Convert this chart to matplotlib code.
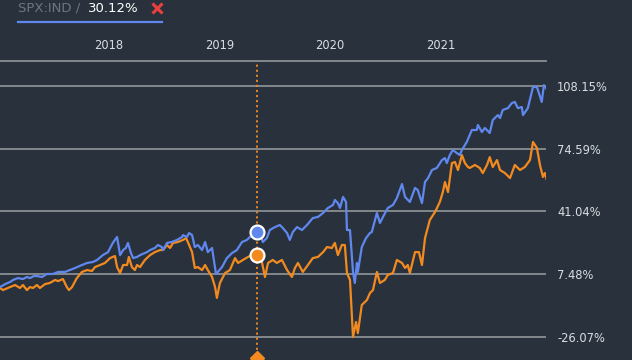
import pandas as pd
import matplotlib
matplotlib.use("Agg")
import matplotlib.pyplot as plt
import matplotlib.transforms as mtransforms
from matplotlib.lines import Line2D

# weekly-ish closes, as % change since the first point (days counted from start_date)
start_date = pd.Timestamp("2017-01-06")

spx_days = [0, 17, 33, 43, 59, 76, 89, 99, 112, 122,
            139, 155, 175, 192, 215, 231, 248, 271, 288, 307,
            321, 340, 357, 373, 387, 397, 407, 416, 423, 433,
            440, 453, 463, 486, 496, 512, 522, 535, 539, 552,
            568, 585, 602, 605, 618, 625, 635, 644, 654, 668,
            678, 687, 701, 714, 734, 750, 767, 783, 800, 816,
            833, 846, 859, 869, 882, 892, 909, 925, 935, 949,
            958, 968, 982, 998, 1015, 1034, 1051, 1068, 1084, 1101,
            1107, 1117, 1124, 1134, 1144, 1147, 1157, 1167, 1173, 1180,
            1183, 1196, 1210, 1223, 1229, 1246, 1256, 1266, 1282, 1299,
            1312, 1329, 1339, 1355, 1372, 1381, 1395, 1405, 1415, 1428,
            1444, 1461, 1471, 1477, 1487, 1497, 1510, 1520, 1527, 1543,
            1560, 1576, 1580, 1593, 1603, 1619, 1629, 1646, 1653, 1662,
            1679, 1692, 1702, 1712, 1725, 1729, 1745, 1762, 1775, 1791,
            1798, 1805]
spx_pct = [0.5, 2.1, 3.2, 4.3, 5.3, 4.8, 5.9, 5.3, 6.4, 6.4,
           5.9, 7.5, 7.5, 8.6, 8.6, 9.6, 10.7, 12.3, 13.4, 13.9,
           15.0, 17.6, 19.2, 24.1, 27.3, 17.6, 20.3, 21.4, 24.1, 18.7,
           16.0, 16.6, 17.6, 19.2, 20.3, 21.4, 23.0, 21.9, 20.3, 24.1,
           24.6, 25.7, 27.3, 28.3, 27.3, 29.4, 28.3, 21.9, 23.0, 20.3,
           24.6, 19.2, 21.4, 7.5, 11.2, 16.0, 18.7, 20.3, 24.6, 25.7,
           28.3, 30.1, 29.4, 24.6, 26.7, 31.0, 32.6, 33.7, 32.1, 29.4,
           25.7, 29.9, 32.6, 31.0, 33.7, 37.4, 38.0, 40.1, 42.8, 44.4,
           47.1, 45.4, 42.8, 48.7, 46.0, 31.0, 31.0, 8.6, 2.7, 13.4,
           8.6, 21.9, 26.7, 29.4, 29.9, 40.1, 34.8, 38.0, 42.8, 44.4,
           48.1, 55.6, 48.7, 46.0, 53.5, 52.4, 45.4, 56.7, 58.8, 63.1,
           64.2, 68.4, 69.5, 66.8, 71.1, 73.8, 72.2, 71.1, 73.8, 78.1,
           84.5, 84.5, 87.2, 83.4, 85.6, 82.9, 89.8, 92.5, 90.9, 95.2,
           96.2, 98.9, 99.5, 96.2, 96.8, 92.5, 96.2, 107.5, 107.5, 99.5,
           108.5, 106.9]

cmp_days = [0, 10, 33, 50, 66, 76, 89, 99, 109, 122,
            132, 149, 165, 182, 192, 208, 221, 228, 238, 254,
            271, 288, 304, 314, 331, 347, 364, 380, 387, 397,
            407, 420, 426, 436, 446, 453, 463, 479, 496, 512,
            529, 539, 552, 562, 572, 588, 605, 615, 621, 635,
            644, 654, 668, 678, 687, 701, 711, 717, 727, 744,
            760, 777, 787, 803, 820, 833, 846, 859, 876, 886,
            902, 915, 932, 949, 965, 975, 985, 1001, 1018, 1034,
            1051, 1068, 1081, 1097, 1107, 1117, 1130, 1140, 1147, 1157,
            1167, 1177, 1183, 1196, 1213, 1223, 1233, 1246, 1256, 1272,
            1282, 1299, 1312, 1329, 1339, 1348, 1355, 1372, 1385, 1395,
            1405, 1421, 1438, 1454, 1464, 1471, 1481, 1494, 1504, 1514,
            1527, 1537, 1547, 1553, 1570, 1586, 1596, 1610, 1619, 1629,
            1643, 1653, 1669, 1686, 1702, 1719, 1735, 1752, 1762, 1775,
            1785, 1795, 1801, 1808]
cmp_pct = [0.0, -1.1, 0.5, 1.6, 0.0, 1.6, -1.1, 0.5, 0.0, 1.6,
           0.0, 2.1, 2.7, 4.3, 3.7, 4.8, 0.5, -1.1, 0.5, 5.3,
           8.6, 9.6, 9.1, 11.2, 12.3, 13.4, 16.0, 17.1, 11.2, 8.0,
           12.3, 12.3, 16.6, 11.2, 9.6, 12.3, 11.2, 15.0, 17.6, 19.2,
           20.3, 20.3, 23.0, 21.4, 24.1, 24.6, 25.7, 26.7, 24.6, 19.2,
           10.7, 11.2, 9.6, 12.3, 9.6, 5.9, 0.5, -5.3, 2.7, 8.0,
           9.6, 16.0, 13.4, 15.0, 16.6, 17.6, 17.6, 19.2, 5.9, 13.4,
           15.0, 13.4, 15.0, 9.6, 5.9, 10.7, 13.4, 8.6, 12.3, 16.0,
           16.6, 19.2, 21.9, 21.4, 24.1, 17.6, 23.0, 23.0, 8.0, 4.3,
           -26.2, -18.2, -24.1, -9.1, -6.4, -2.7, -1.1, 8.6, 2.7, 4.3,
           7.0, 8.0, 15.0, 13.4, 10.7, 12.3, 8.0, 19.2, 19.2, 12.3,
           26.7, 36.4, 40.6, 46.0, 51.3, 56.7, 51.3, 66.8, 67.4, 63.1,
           71.1, 66.8, 64.7, 64.2, 65.8, 64.2, 61.5, 65.8, 70.0, 64.7,
           68.4, 63.1, 61.5, 58.8, 65.8, 63.1, 64.7, 68.4, 78.1, 74.9,
           65.8, 59.4, 61.5, 57.7]

grid_levels = [108.15, 74.59, 41.04, 7.48, -26.07]
year_labels = ["2018", "2019", "2020", "2021"]
hover_date = pd.Timestamp("2019-05-04")
hover_spx = 30.12
hover_cmp = 17.6
legend_name = "SPX:IND /"
legend_value = "30.12%"

BG = "#29323c"
BLUE = "#5f87ee"
ORANGE = "#f28a1f"
GRID = "#8a8e93"
TEXT = "#d9dee4"

spx_dates = start_date + pd.to_timedelta(spx_days, unit="D")
cmp_dates = start_date + pd.to_timedelta(cmp_days, unit="D")

fig = plt.figure(figsize=(6.32, 3.6), dpi=100, facecolor=BG)
ax = fig.add_axes([0, 0, 546 / 632, 299 / 360])
ax.set_facecolor(BG)

ax.plot(cmp_dates, cmp_pct, color=ORANGE, lw=1.6, zorder=3)
ax.plot(spx_dates, spx_pct, color=BLUE, lw=1.6, zorder=4)

ax.set_xlim(start_date, spx_dates[-1])
ax.set_ylim(-38.5, 121.4)

# y axis: gridlines + labels on the right
ax.yaxis.tick_right()
ax.set_yticks(grid_levels)
ax.set_yticklabels(["%.2f%%" % v for v in grid_levels])
ax.tick_params(axis="y", length=0, pad=8, labelsize=8.3, labelcolor=TEXT)
ax.grid(axis="y", color=GRID, lw=1.3)

# x axis: years on top
ax.xaxis.tick_top()
ax.set_xticks([pd.Timestamp(y + "-01-01") for y in year_labels])
ax.set_xticklabels(year_labels)
ax.tick_params(axis="x", length=0, pad=6.5, labelsize=8.3, labelcolor=TEXT)

for side in ["left", "right", "bottom"]:
    ax.spines[side].set_visible(False)
ax.spines["top"].set_color(GRID)
ax.spines["top"].set_linewidth(1.3)

# hover crosshair
ax.axvline(hover_date, color=ORANGE, lw=1.3, ls=(0, (1.2, 1.6)), zorder=2)
ax.plot(hover_date, hover_spx, "o", ms=10, mfc=BLUE, mec="white", mew=1.6, zorder=6)
ax.plot(hover_date, hover_cmp, "o", ms=10, mfc=ORANGE, mec="white", mew=1.6, zorder=6)
trans = mtransforms.blended_transform_factory(ax.transData, ax.transAxes)
ax.plot(hover_date, 0.007, "D", ms=7, color=ORANGE, transform=trans, clip_on=False, zorder=6)

# legend chip at the top-left
fig.text(18 / 632, 1 - 8 / 360, legend_name, color="#6c7682", fontsize=9.5, va="center", ha="left")
fig.text(88 / 632, 1 - 8 / 360, legend_value, color="white", fontsize=9.5, va="center", ha="left")
fig.add_artist(Line2D([157 / 632], [1 - 7.5 / 360], marker="x", ms=7, mew=2.2, color="#e8403c",
                      transform=fig.transFigure))
fig.add_artist(Line2D([18 / 632, 162 / 632], [1 - 22 / 360, 1 - 22 / 360], color=BLUE, lw=1.6,
                      transform=fig.transFigure))

fig.savefig("out.png", dpi=100, facecolor=BG)
